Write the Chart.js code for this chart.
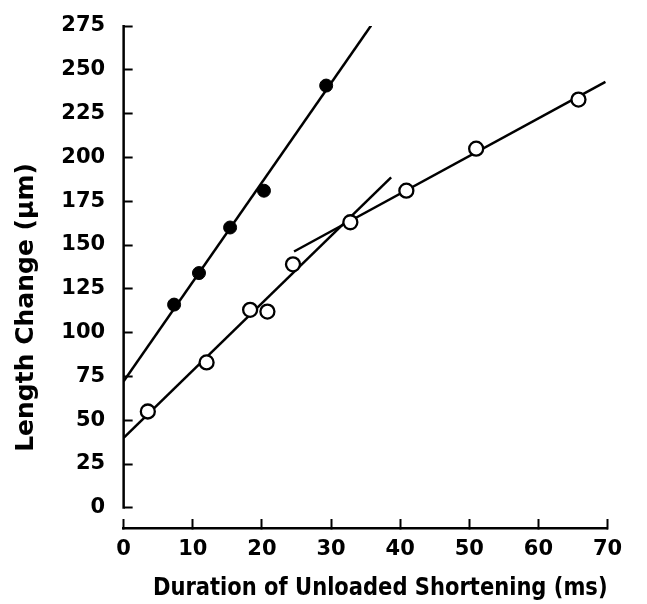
<!DOCTYPE html>
<html>
<head>
<meta charset="utf-8">
<script src="https://cdn.jsdelivr.net/npm/chart.js@4/dist/chart.umd.min.js"></script>
<style>
  html, body { margin: 0; padding: 0; background: #fff; overflow: hidden; }
  .chart-container { width: 647px; height: 604px; }
</style>
</head>
<body>
<div class="chart-container"><canvas id="myChart" width="647" height="604"></canvas></div>
<script>
// 채운 원 (filled)
let filledX = [7.3, 10.9, 15.4, 20.3, 29.3];
let filledY = [116, 134, 160, 181, 241];
// 빈 원 (open)
let openX = [3.5, 12.0, 18.3, 20.8, 24.5, 32.8, 40.9, 51.0, 65.8];
let openY = [55, 83, 113, 112, 139, 163, 181, 205, 233];

// 회귀선 끝점
let fitFilledX = [0, 35.8];
let fitFilledY = [72.3, 275.3];
let fitLowX = [0, 38.7];
let fitLowY = [40, 188.6];
let fitHighX = [24.65, 69.7];
let fitHighY = [146.3, 243.1];

// 눈금
let yTicks = [0, 25, 50, 75, 100, 125, 150, 175, 200, 225, 250, 275];
let xTicks = [0, 10, 20, 30, 40, 50, 60, 70];

function toPoints(xs, ys){
  let pts = [];
  for(let i=0;i<xs.length;i++){
    pts.push({x: xs[i], y: ys[i]});
  }
  return pts;
}

function fitLine(xs, ys){
  return {
    data: toPoints(xs, ys),
    showLine: true,
    borderColor: '#000',
    borderWidth: 2.5,
    pointRadius: 0,
    fill: false
  };
}

// y축 선 (0~275 까지만 그림)
const axisPlugin = {
  id: 'axisPlugin',
  afterDraw(chart){
    let ctx = chart.ctx;
    let y = chart.scales.y;
    let left = chart.chartArea.left;
    ctx.save();
    ctx.strokeStyle = '#000';
    ctx.lineWidth = 2.5;
    ctx.beginPath();
    ctx.moveTo(left, y.getPixelForValue(yTicks[yTicks.length-1]) - 1);
    ctx.lineTo(left, y.getPixelForValue(yTicks[0]) + 1);
    ctx.stroke();
    ctx.restore();
  }
};

let tickFont = {family: 'DejaVu Sans', size: 21, weight: 'bold'};
let titleFont = {family: 'DejaVu Sans', size: 25, weight: 'bold'};

var ctx = document.getElementById('myChart').getContext('2d');
var newChart = new Chart(ctx, {
  type: 'scatter',
  data: {
    datasets: [
      {
        data: toPoints(filledX, filledY),
        pointRadius: 6.5,
        pointBackgroundColor: '#000',
        pointBorderColor: '#000',
        pointBorderWidth: 1
      },
      {
        data: toPoints(openX, openY),
        pointRadius: 7,
        pointBackgroundColor: '#fff',
        pointBorderColor: '#000',
        pointBorderWidth: 2.3
      },
      fitLine(fitFilledX, fitFilledY),
      fitLine(fitLowX, fitLowY),
      fitLine(fitHighX, fitHighY)
    ]
  },
  options: {
    responsive: false,
    animation: false,
    devicePixelRatio: 1,
    layout: { padding: {left: 4, right: 39.5, top: 26, bottom: 0} },
    plugins: { legend: {display: false}, tooltip: {enabled: false} },
    scales: {
      x: {
        type: 'linear',
        min: 0,
        max: 70,
        afterBuildTicks(scale){ scale.ticks = xTicks.map(v => ({value: v})); },
        border: {display: true, color: '#000', width: 2.5},
        grid: {drawOnChartArea: false, drawTicks: true, tickLength: -9, tickColor: '#000', tickWidth: 2},
        ticks: {color: '#000', font: tickFont, padding: 18, maxRotation: 0},
        title: {
          display: true,
          text: '    Duration of Unloaded Shortening (ms)',
          color: '#000',
          font: titleFont,
          padding: {top: -7.2, bottom: 1}
        }
      },
      y: {
        type: 'linear',
        min: -11.5,
        max: 275,
        afterBuildTicks(scale){ scale.ticks = yTicks.map(v => ({value: v})); },
        // 눈금 padding 때문에 위쪽 여백이 커지는 것 방지
        afterFit(scale){ scale.paddingTop = 12; scale.paddingBottom = 12; },
        border: {display: false},
        grid: {drawOnChartArea: false, drawTicks: true, tickLength: -9, tickColor: '#000', tickWidth: 2},
        ticks: {color: '#000', font: tickFont, padding: 27.5},
        title: {
          display: true,
          text: 'Length Change (μm)       ',
          color: '#000',
          font: titleFont,
          padding: {top: 7, bottom: -7.2}
        }
      }
    }
  },
  plugins: [axisPlugin]
});
</script>
</body>
</html>
